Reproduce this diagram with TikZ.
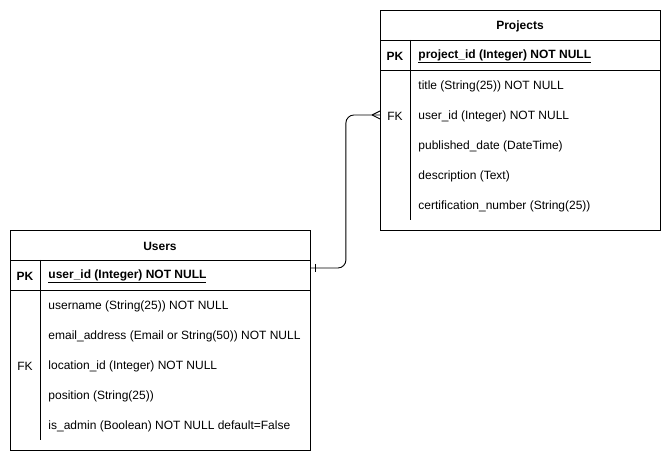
\documentclass[tikz,border=0pt]{standalone}
\usepackage{fontspec}
\setmainfont{Liberation Sans}
\begin{document}
\begin{tikzpicture}[x=1pt,y=-1pt,line width=0.9pt,
    every node/.style={font=\fontsize{12}{14}\selectfont,inner sep=0pt},
    entity/.style={draw,anchor=north west,minimum height=220pt},
    field/.style={anchor=west,yshift=-1.5pt},
    keycol/.style={anchor=center,yshift=-1.5pt}]
    \useasboundingbox (0,0) rectangle (672,462);
    % Projects table
    \node[entity,minimum width=280pt] (projects) at (380,10) {};
    \draw ([yshift=-30pt]projects.north west) -- ([yshift=-30pt]projects.north east);
    \draw ([yshift=-60pt]projects.north west) -- ([yshift=-60pt]projects.north east);
    \draw ([xshift=30.5pt,yshift=-30pt]projects.north west) -- ([xshift=30.5pt,yshift=-210pt]projects.north west);
    \node[keycol,font=\fontsize{12}{14}\selectfont\bfseries] (projectshead) at (520,25) {Projects};
    \node[keycol,font=\fontsize{12}{14}\selectfont\bfseries] (projectspk) at (395,55) {PK};
    \node[field,font=\fontsize{12}{14}\selectfont\bfseries] (projectsid) at (418,55) {\underline{project\_id (Integer) NOT NULL}};
    \node[keycol] (projectsfk) at (395,115) {FK};
    \foreach \t [count=\i] in {title (String(25)) NOT NULL, user\_id (Integer) NOT NULL,
        published\_date (DateTime), description (Text), certification\_number (String(25))}
        {
            \node[field] (prow\i) at (418,55+30*\i) {\t};
        }
    % Users table
    \node[entity,minimum width=300pt] (users) at (10,230) {};
    \draw ([yshift=-30pt]users.north west) -- ([yshift=-30pt]users.north east);
    \draw ([yshift=-60pt]users.north west) -- ([yshift=-60pt]users.north east);
    \draw ([xshift=30.5pt,yshift=-30pt]users.north west) -- ([xshift=30.5pt,yshift=-210pt]users.north west);
    \node[keycol,font=\fontsize{12}{14}\selectfont\bfseries] (usershead) at (160,245) {Users};
    \node[keycol,font=\fontsize{12}{14}\selectfont\bfseries] (userspk) at (25,275) {PK};
    \node[field,font=\fontsize{12}{14}\selectfont\bfseries] (usersid) at (48,275) {\underline{user\_id (Integer) NOT NULL}};
    \node[keycol] (usersfk) at (25,365) {FK};
    \foreach \t [count=\i] in {username (String(25)) NOT NULL, email\_address (Email or String(50)) NOT NULL,
        location\_id (Integer) NOT NULL, position (String(25)), is\_admin (Boolean) NOT NULL default=False}
        {
            \node[field] (urow\i) at (48,275+30*\i) {\t};
        }
    % relation
    \coordinate (uend) at ([yshift=-38pt]users.north east);
    \coordinate (pend) at ([yshift=-105pt]projects.north west);
    \draw[rounded corners=8pt] (uend) -- ++(35,0) |- (pend);
    \draw (uend) ++(5,-4) -- ++(0,8);
    \draw (pend) ++(-8,0) -- ++(8,-4) (pend) ++(-8,0) -- ++(8,4);
\end{tikzpicture}
\end{document}
